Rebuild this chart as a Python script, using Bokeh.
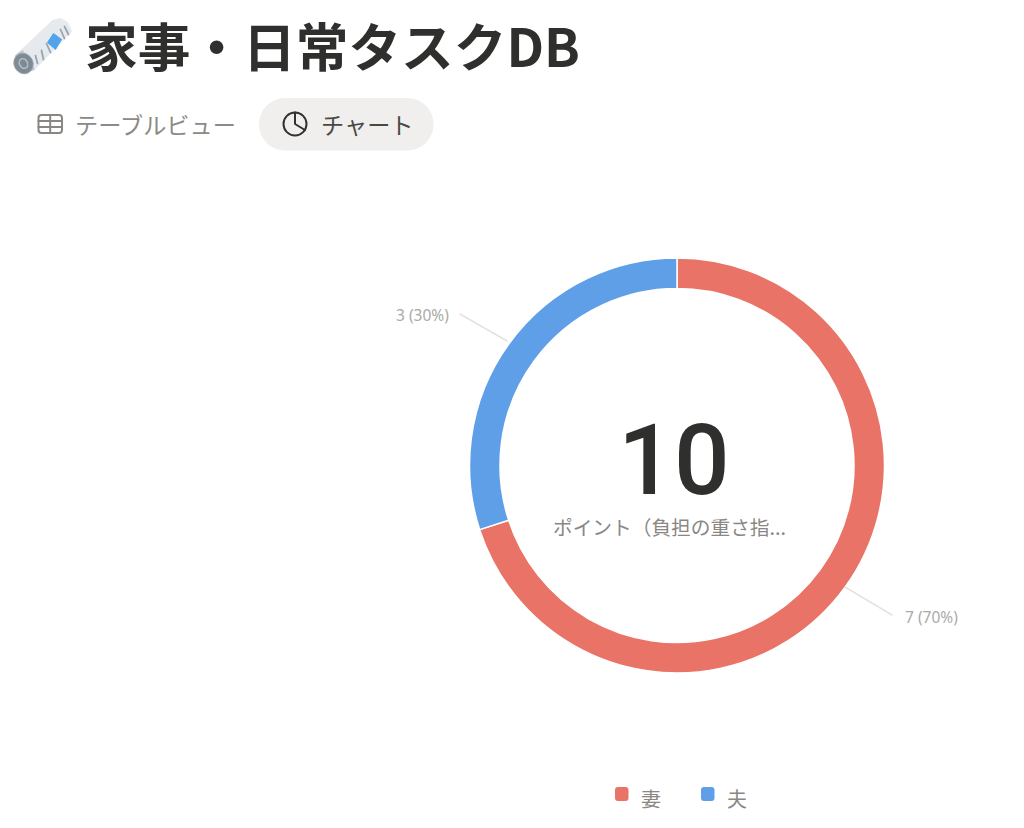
import math
from bokeh.plotting import figure
from bokeh.models import Range1d
from bokeh.core.properties import value
from bokeh.embed import file_html
from bokeh.resources import INLINE

# --- data ---
categories = ["妻", "夫"]
points = [7, 3]
colors = ["#E97366", "#5F9FE8"]
title = "家事・日常タスクDB"
tab_labels = ["テーブルビュー", "チャート"]
center_caption = "ポイント（負担の重さ指..."

W, H = 1008, 820
CJK = "Noto Sans CJK JP"
p = figure(width=W, height=H, output_backend="svg", toolbar_location=None,
           x_range=Range1d(0, W), y_range=Range1d(828 - H, 828),
           min_border=0, outline_line_color=None, background_fill_color="white",
           border_fill_color="white")
p.axis.visible = False
p.grid.visible = False
Y = lambda py: 828 - py


def txt(x, py, s, size, color, font=CJK, style="normal", align="left"):
    p.text([x], [Y(py)], text=[s], text_font=value(font), text_font_size=f"{size}px",
           text_color=color, text_font_style=style, text_align=align, text_baseline="middle")


# --- newspaper icon ---
def poly(pts, fill, line=None, w=1, alpha=1.0):
    p.patch([a for a, _ in pts], [Y(b) for _, b in pts], fill_color=fill, line_color=line or fill,
            line_width=w, fill_alpha=alpha)


def stroke(pts, color, w=1.0, cap="round"):
    p.line([a for a, _ in pts], [Y(b) for _, b in pts], line_color=color, line_width=w, line_cap=cap)


poly([(15, 55), (52, 20), (60, 18), (67, 22), (71, 31), (34, 69), (24, 72)], "#E6EAEE")
poly([(15, 55), (24, 72), (34, 69), (30, 62), (22, 50)], "#C3CCD3")
poly([(53, 33), (61, 39), (55, 49), (47, 42)], "#4FA4EC")
for seg in ([(60, 29), (64, 38)], [(64, 26), (68, 34)], [(46, 43), (50, 52)],
            [(41, 50), (43, 59)], [(35, 55), (37, 63)]):
    stroke(seg, "#9AA5AD", 1.8)
p.ellipse([23], [Y(63)], width=19, height=21, angle=0.5, fill_color="#7F8B94", line_color="#9BA6AE", line_width=1)
p.ellipse([23], [Y(63)], width=8, height=10, angle=0.5, fill_color="#7F8B94", line_color="#B5BEC5", line_width=1.5)

# --- title ---
txt(84.5, 43, title, 52.7, "#2F2F2D", style="bold")

# --- tabs ---
p.quad(left=[258.5], right=[433], top=[Y(97.5)], bottom=[Y(150)], fill_color="#F0EFED",
       line_color=None, border_radius=26)
p.quad(left=[38], right=[61.5], top=[Y(114.5)], bottom=[Y(132.5)], fill_color=None,
       line_color="#8A8782", line_width=2, border_radius=3)
stroke([(38, 120.5), (61.5, 120.5)], "#8A8782", 2)
stroke([(38, 126.5), (61.5, 126.5)], "#8A8782", 2)
stroke([(49.7, 114.5), (49.7, 132.5)], "#8A8782", 2)
txt(74.5, 123, tab_labels[0], 23.2, "#8D8A86")
p.circle([294.5], [Y(123.5)], radius=11.5, fill_color=None, line_color="#33322F", line_width=2)
stroke([(294.5, 112), (294.5, 123.5), (304.5, 129.5)], "#33322F", 2)
txt(320.5, 123, tab_labels[1], 23.2, "#4A4845")

# --- donut ---
CX, CY, R_OUT, R_IN = 676.5, 465, 207.5, 177
total = sum(points)
angle = math.pi / 2
for v, c in zip(points, colors):
    end = angle - 2 * math.pi * v / total
    p.annular_wedge([CX], [Y(CY)], inner_radius=R_IN, outer_radius=R_OUT, start_angle=angle,
                    end_angle=end, direction="clock", fill_color=c, line_color="white", line_width=1.5)
    angle = end

# --- leader lines and value labels ---
stroke([(844.5, 586.5), (891.5, 614.5)], "#E3E3E1", 1.5)
stroke([(459.5, 313.5), (506.5, 340.5)], "#E3E3E1", 1.5)
txt(904.5, 616, f"{points[0]} ({round(points[0] / total * 100)}%)", 15.5, "#ABAAA7", font="Noto Sans")
txt(395.5, 314, f"{points[1]} ({round(points[1] / total * 100)}%)", 15.5, "#ABAAA7", font="Noto Sans")

# --- centre ---
p.text([CX - 3], [Y(458)], text=[str(total)], text_font=value("Roboto Medium, Roboto"),
       text_font_size="98px", text_color="#2F2F2D", text_align="center", text_baseline="middle")
txt(552.5, 525.5, center_caption, 19.7, "#8A8885")

# --- legend ---
for x0, lx, c, cat in zip([614.5, 700.5], [640.5, 726.5], colors, categories):
    p.quad(left=[x0], right=[x0 + 13.5], top=[Y(786.5)], bottom=[Y(800.5)], fill_color=c,
           line_color=None, border_radius=3)
    txt(lx, 798, cat, 20, "#8A8885")

open("out.html", "w").write(file_html(p, INLINE))
